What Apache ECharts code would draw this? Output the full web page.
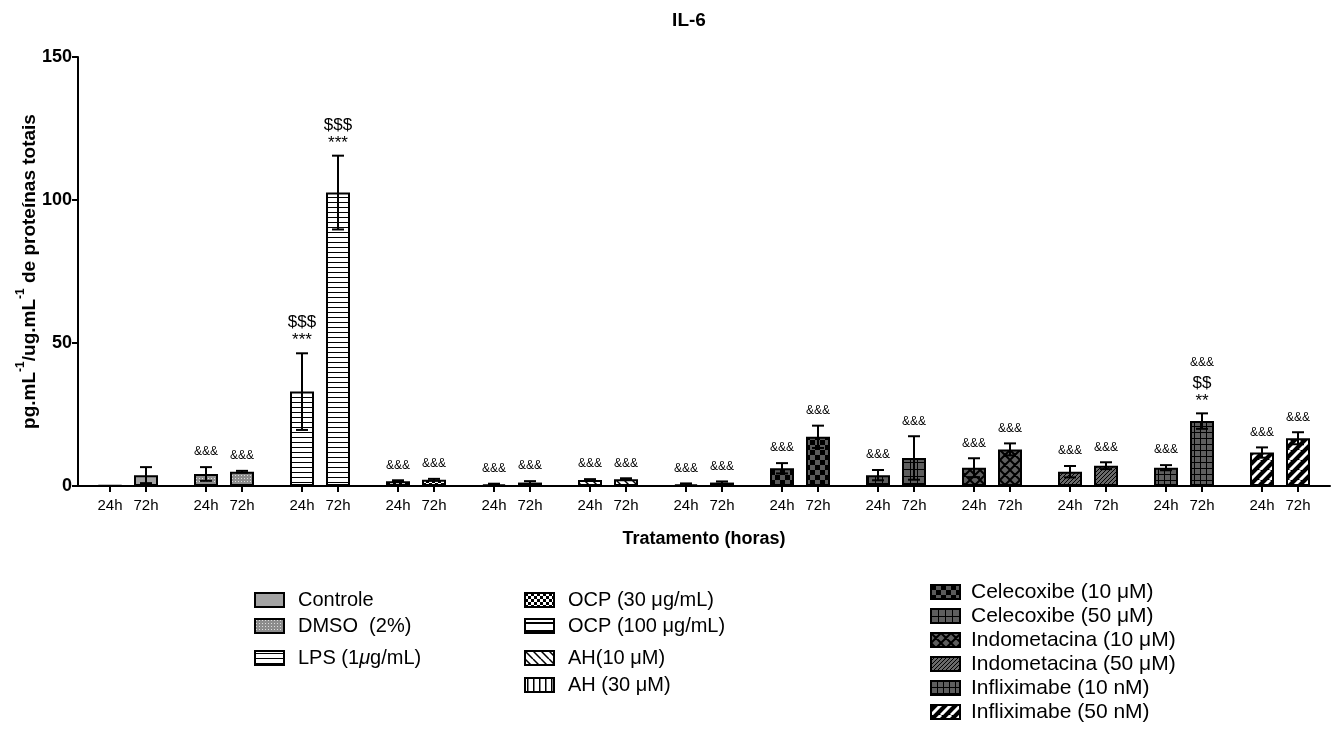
<!DOCTYPE html>
<html>
<head>
<meta charset="utf-8">
<title>IL-6</title>
<script src="https://cdn.jsdelivr.net/npm/echarts@6/dist/echarts.min.js"></script>
<style>
  html, body { margin: 0; padding: 0; background: #ffffff; }
  #chart { width: 1341px; height: 744px; }
</style>
</head>
<body>
<div id="chart"></div>
<script>
// Treatment groups (legend order = order along the x axis)
const groups = [
  'Controle', 'DMSO  (2%)', 'LPS (1μg/mL)',
  'OCP (30 μg/mL)', 'OCP (100 μg/mL)', 'AH(10 μM)', 'AH (30 μM)',
  'Celecoxibe (10 μM)', 'Celecoxibe (50 μM)',
  'Indometacina (10 μM)', 'Indometacina (50 μM)',
  'Infliximabe (10 nM)', 'Infliximabe (50 nM)'
];
const times = ['24h', '72h'];

// IL-6 (pg.mL-1 / ug.mL-1 total protein): mean and error per group
const mean24 = [0.2, 4.2, 33.0, 1.7, 0.6, 2.1, 0.6, 6.2, 3.8, 6.4, 5.0, 6.4, 11.7];
const err24  = [0.0, 2.4, 13.4, 0.3, 0.2, 0.3, 0.3, 1.8, 1.8, 3.3, 2.0, 0.9, 1.8];
const mean72 = [3.8, 5.0, 102.6, 2.2, 1.2, 2.4, 1.2, 17.2, 9.8, 12.8, 7.1, 22.7, 16.7];
const err72  = [2.8, 0.3, 12.9, 0.3, 0.5, 0.3, 0.4, 3.9, 7.6, 2.1, 1.2, 2.7, 2.1];

// Significance marks above each bar, listed from the bottom up
const marks24 = [[], ['&&&'], ['***', '$$$'], ['&&&'], ['&&&'], ['&&&'], ['&&&'],
                 ['&&&'], ['&&&'], ['&&&'], ['&&&'], ['&&&'], ['&&&']];
const marks72 = [[], ['&&&'], ['***', '$$$'], ['&&&'], ['&&&'], ['&&&'], ['&&&'],
                 ['&&&'], ['&&&'], ['&&&'], ['&&&'], ['**', '$$', '&&&'], ['&&&']];

const yTicks = [0, 50, 100, 150];

// ---- layout helpers ----
const FONT = '"Liberation Sans", Arial, Helvetica, sans-serif';
const PAIR = 0.375;            // 72h bar offset from the 24h bar, in group units
const xOf = (g, t) => g + t * PAIR;

// ---- fill patterns ----
function tile(size, draw) {
  const c = document.createElement('canvas');
  c.width = size; c.height = size;
  const g = c.getContext('2d');
  draw(g, size);
  return { image: c, repeat: 'repeat' };
}
function hLines(bg, fg, p, w) {
  return tile(p, (g) => { g.fillStyle = bg; g.fillRect(0, 0, p, p); g.fillStyle = fg; g.fillRect(0, Math.floor((p - w) / 2), p, w); });
}
function vLines(bg, fg, p, w) {
  return tile(p, (g) => { g.fillStyle = bg; g.fillRect(0, 0, p, p); g.fillStyle = fg; g.fillRect(Math.floor((p - w) / 2), 0, w, p); });
}
function checker(a, b, cell) {
  return tile(cell * 2, (g) => { g.fillStyle = a; g.fillRect(0, 0, cell * 2, cell * 2); g.fillStyle = b; g.fillRect(0, 0, cell, cell); g.fillRect(cell, cell, cell, cell); });
}
function grid(bg, fg, p, w) {
  return tile(p, (g) => { g.fillStyle = bg; g.fillRect(0, 0, p, p); g.fillStyle = fg; g.fillRect(0, 0, p, w); g.fillRect(0, 0, w, p); });
}
function diag(bg, fg, p, w, dirs) {
  return tile(p, (g) => {
    g.fillStyle = bg; g.fillRect(0, 0, p, p);
    g.strokeStyle = fg; g.lineWidth = w;
    g.beginPath();
    for (let k = -1; k <= 1; k++) {
      if (dirs.indexOf('/') >= 0) { g.moveTo(k * p, p); g.lineTo(k * p + p, 0); }
      if (dirs.indexOf('\\') >= 0) { g.moveTo(k * p, 0); g.lineTo(k * p + p, p); }
    }
    g.stroke();
  });
}
function dots(bg, fg, p) {
  return tile(p, (g) => { g.fillStyle = bg; g.fillRect(0, 0, p, p); g.fillStyle = fg; g.fillRect(1, 1, 1, 1); });
}

const fills = [
  '#a3a3a3',                                 // Controle
  dots('#8c8c8c', '#dcdcdc', 3),             // DMSO
  hLines('#ffffff', '#000000', 5, 1),        // LPS
  checker('#ffffff', '#000000', 3),          // OCP 30
  hLines('#ffffff', '#000000', 8, 2),        // OCP 100
  diag('#ffffff', '#000000', 8, 1.5, '\\'),  // AH 10
  vLines('#ffffff', '#000000', 6, 1.5),      // AH 30
  checker('#5a5a5a', '#000000', 5),          // Celecoxibe 10
  grid('#5e5e5e', '#000000', 7, 1),          // Celecoxibe 50
  diag('#5e5e5e', '#000000', 10, 2, '/\\'),  // Indometacina 10
  diag('#6a6a6a', '#000000', 4, 1, '/'),     // Indometacina 50
  grid('#5e5e5e', '#000000', 6, 1),          // Infliximabe 10
  diag('#000000', '#ffffff', 10, 3, '/')     // Infliximabe 50
];

// ---- series ----
const series = groups.map((name, i) => ({
  type: 'bar',
  name: name,
  data: [[xOf(i, 0), mean24[i]], [xOf(i, 1), mean72[i]]],
  barWidth: 24,
  barGap: '-100%',
  silent: true,
  itemStyle: { color: fills[i], borderColor: '#000', borderWidth: 2 },
  emphasis: { disabled: true },
  z: 2
}));

const errData = [];
groups.forEach((g, i) => {
  errData.push([xOf(i, 0), mean24[i], err24[i], i, 0]);
  errData.push([xOf(i, 1), mean72[i], err72[i], i, 1]);
});

series.push({
  type: 'custom',
  name: 'erro',
  silent: true,
  clip: false,
  z: 5,
  data: errData,
  encode: { x: 0, y: 1 },
  renderItem: function (params, api) {
    const x = api.value(0), m = api.value(1), e = api.value(2);
    const gi = api.value(3), ti = api.value(4);
    const top = api.coord([x, m + e]);
    const bot = api.coord([x, m - e]);
    const children = [];
    const ls = { stroke: '#000', lineWidth: 2 };
    if (e > 0) {
      children.push({ type: 'line', shape: { x1: top[0], y1: top[1], x2: bot[0], y2: bot[1] }, style: ls });
      children.push({ type: 'line', shape: { x1: top[0] - 6, y1: top[1], x2: top[0] + 6, y2: top[1] }, style: ls });
      children.push({ type: 'line', shape: { x1: bot[0] - 6, y1: bot[1], x2: bot[0] + 6, y2: bot[1] }, style: ls });
    }
    const list = (ti === 0 ? marks24 : marks72)[gi];
    let y = top[1] - 4;
    list.forEach((t) => {
      const amp = t.charAt(0) === '&';
      const fs = amp ? 12 : 17;
      if (amp) y -= 5;
      children.push({
        type: 'text', x: top[0], y: y,
        style: { text: t, fill: '#000', fontSize: fs, fontFamily: FONT, align: 'center', verticalAlign: 'bottom' }
      });
      y -= amp ? fs + 2 : 18;
    });
    return { type: 'group', children: children };
  }
});

// tick positions under every bar
const tickValues = [];
groups.forEach((g, i) => { tickValues.push(xOf(i, 0)); tickValues.push(xOf(i, 1)); });

// one legend entry per row: [group index, icon left, row centre, font size, text gap]
const legendRows = [
  [0, 254, 600, 20, 9], [1, 254, 626, 20, 9], [2, 254, 658, 20, 9],
  [3, 524, 600, 20, 9], [4, 524, 626, 20, 9], [5, 524, 658, 20, 9], [6, 524, 685, 20, 9],
  [7, 930, 592, 21, 6], [8, 930, 616, 21, 6], [9, 930, 640, 21, 6],
  [10, 930, 664, 21, 6], [11, 930, 688, 21, 6], [12, 930, 712, 21, 6]
];
const legends = legendRows.map(([gi, left, cy, fs, gap]) => ({
  data: [groups[gi]],
  orient: 'vertical',
  left: left, top: cy - 12,
  itemWidth: 29, itemHeight: 14,
  selectedMode: false,
  icon: 'rect',
  itemStyle: { borderColor: '#000', borderWidth: 2 },
  formatter: (name) => name.replace('(1μ', '(1{i|μ}'),
  textStyle: {
    fontSize: fs, color: '#000', fontFamily: FONT, padding: [0, 0, 0, gap], lineHeight: 24,
    rich: { i: { fontSize: fs, fontStyle: 'italic', color: '#000', fontFamily: FONT, lineHeight: 24 } }
  },
  padding: 0
}));

const option = {
  animation: false,
  backgroundColor: '#ffffff',
  title: {
    text: 'IL-6', left: 684, top: 6, textAlign: 'center',
    textStyle: { fontSize: 19, fontWeight: 'bold', color: '#000', fontFamily: FONT }
  },
  grid: { left: 78, right: 11, top: 57, bottom: 258, containLabel: false },
  legend: legends,
  xAxis: {
    type: 'value',
    min: -32 / 96, max: 1220 / 96,
    name: 'Tratamento (horas)', nameLocation: 'middle', nameGap: 44,
    nameTextStyle: { fontSize: 18, fontWeight: 'bold', color: '#000', fontFamily: FONT },
    splitLine: { show: false },
    axisLine: { onZero: false, lineStyle: { color: '#000', width: 2 } },
    axisTick: { show: true, customValues: tickValues, length: 6, lineStyle: { color: '#000', width: 2 } },
    axisLabel: {
      customValues: tickValues,
      formatter: (v) => times[Math.abs(v - Math.round(v)) < 0.01 ? 0 : 1],
      fontSize: 15, color: '#000', fontFamily: FONT, margin: 12
    }
  },
  yAxis: {
    type: 'value',
    min: yTicks[0], max: yTicks[yTicks.length - 1], interval: 50,
    name: '{n|pg.mL}{s|-1}{n|/ug.mL}{s|-1}{n| de proteínas totais}',
    nameLocation: 'middle', nameGap: 39, nameMoveOverlap: false,
    nameTextStyle: {
      rich: {
        n: { fontSize: 19, fontWeight: 'bold', color: '#000', fontFamily: FONT, verticalAlign: 'bottom', lineHeight: 24 },
        s: { fontSize: 12, fontWeight: 'bold', color: '#000', fontFamily: FONT, verticalAlign: 'top', lineHeight: 16 }
      }
    },
    splitLine: { show: false },
    axisLine: { show: true, onZero: false, lineStyle: { color: '#000', width: 2 } },
    axisTick: { show: true, length: 6, lineStyle: { color: '#000', width: 2 } },
    axisLabel: { fontSize: 18, fontWeight: 'bold', color: '#000', fontFamily: FONT, margin: 6 }
  },
  series: series
};

const chart = echarts.init(document.getElementById('chart'), null, { renderer: 'canvas' });
chart.setOption(option);
</script>
</body>
</html>
